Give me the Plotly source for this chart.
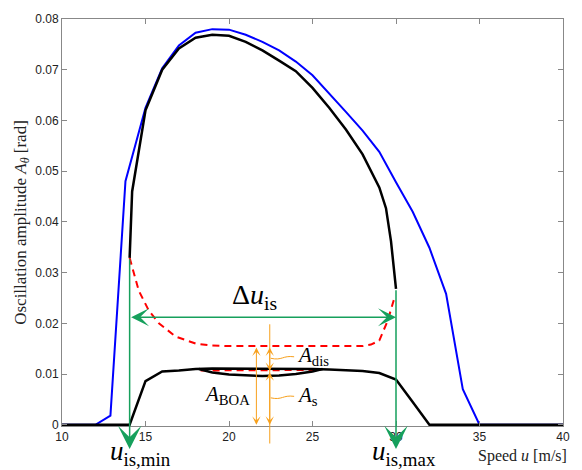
import plotly.graph_objects as go

# ---------------- data ----------------
blue_x = [10, 12, 12.9, 13.8, 15, 16, 17, 18, 19, 20, 21, 22, 23, 24, 25, 26, 27, 28, 29, 30, 31, 32, 33, 34, 35, 40]
blue_y = [0, 0, 0.0018, 0.048, 0.0625, 0.0703, 0.0748, 0.0773, 0.078, 0.0779, 0.0769, 0.0755, 0.0738, 0.0716,
          0.0689, 0.0654, 0.0617, 0.058, 0.0538, 0.0478, 0.042, 0.0349, 0.0258, 0.007, 0, 0]

upper_x = [14.05, 14.2, 15, 16, 17, 18, 19, 20, 21, 22, 23, 24, 25, 26, 27, 28, 29, 29.4, 29.7, 30.0]
upper_y = [0.0329, 0.046, 0.062, 0.070, 0.0742, 0.0763, 0.0769, 0.0767, 0.0755, 0.0738, 0.0718, 0.0697,
           0.0664, 0.0625, 0.0582, 0.0533, 0.0468, 0.0427, 0.0362, 0.0268]

lower_x = [10, 14.05, 15, 16, 17, 18, 19, 20, 21, 22, 23, 24, 25, 26, 27, 28, 29, 30, 31, 32, 40]
lower_y = [0, 0, 0.0086, 0.0105, 0.0107, 0.0110, 0.0111, 0.0111, 0.0111, 0.0111, 0.0111, 0.0111, 0.0110,
           0.0109, 0.0108, 0.0106, 0.0102, 0.0089, 0.0045, 0, 0]

lens_x = [18.2, 19, 20, 21, 22, 23, 24, 25, 25.6]
lens_y = [0.0110, 0.0103, 0.0099, 0.0097, 0.0096, 0.0097, 0.0100, 0.0105, 0.0110]

unstable_x = [14.05, 14.6, 15.2, 15.8, 16.8, 18, 19, 20, 22, 24, 26, 28, 28.5, 29, 29.5, 29.95]
unstable_y = [0.0329, 0.0264, 0.0225, 0.0200, 0.0174, 0.0160, 0.0156, 0.0155, 0.0155, 0.0155, 0.0155,
              0.0155, 0.0158, 0.0166, 0.0205, 0.0255]

unstable_lens_x = [18.3, 20, 22, 24, 25.5]
unstable_lens_y = [0.0107, 0.0107, 0.0107, 0.0107, 0.0108]

x_ticks = [10, 15, 20, 25, 30, 35, 40]
y_ticks = [0, 0.01, 0.02, 0.03, 0.04, 0.05, 0.06, 0.07, 0.08]

# annotation anchors (data units)
u_is_min, u_is_max = 14.05, 30.0
A_top_min, A_top_max = 0.0329, 0.0268
du_level = 0.0212
A_dis_top, A_s_top = 0.0155, 0.0106
x_boa, x_s = 21.64, 22.44

SERIF = "Liberation Serif, DejaVu Serif, serif"
SANS = "Liberation Sans, Arial, sans-serif"
GREEN = "#16a05c"
ORANGE = "#f7a01c"

fig = go.Figure()
fig.add_trace(go.Scatter(x=blue_x, y=blue_y, mode="lines", line=dict(color="#0000ff", width=2)))
fig.add_trace(go.Scatter(x=unstable_x, y=unstable_y, mode="lines",
                         line=dict(color="#ff0000", width=2, dash="7px,5px")))
fig.add_trace(go.Scatter(x=unstable_lens_x, y=unstable_lens_y, mode="lines",
                         line=dict(color="#ff0000", width=2, dash="7px,5px")))
fig.add_trace(go.Scatter(x=upper_x, y=upper_y, mode="lines", line=dict(color="#000000", width=2.5)))
fig.add_trace(go.Scatter(x=lower_x, y=lower_y, mode="lines", line=dict(color="#000000", width=2.5)))
fig.add_trace(go.Scatter(x=lens_x, y=lens_y, mode="lines", line=dict(color="#000000", width=2.5)))

ann = []
# green vertical arrows
for xv, top in [(u_is_min, A_top_min), (u_is_max, A_top_max)]:
    ann.append(dict(x=xv, y=-0.0048, ax=xv, ay=top, xref="x", yref="y", axref="x", ayref="y",
                    text="", showarrow=True, arrowhead=3, arrowsize=2.6, arrowwidth=1.5, arrowcolor=GREEN))
# green horizontal double arrow
ann.append(dict(x=u_is_max, y=du_level, ax=u_is_min, ay=du_level, xref="x", yref="y", axref="x", ayref="y",
                text="", showarrow=True, arrowhead=3, startarrowhead=3, arrowside="end+start",
                arrowsize=2.0, startarrowsize=2.0, arrowwidth=1.5, arrowcolor=GREEN))
# orange thin line
ann.append(dict(x=x_s, y=-0.0037, ax=x_s, ay=0.0201, xref="x", yref="y", axref="x", ayref="y",
                text="", showarrow=True, arrowhead=0, arrowwidth=1, arrowcolor=ORANGE))
# orange double arrows
for xv, y0, y1 in [(x_boa, A_dis_top, 0), (x_s, A_dis_top, A_s_top), (x_s, A_s_top, 0)]:
    ann.append(dict(x=xv, y=y1, ax=xv, ay=y0, xref="x", yref="y", axref="x", ayref="y",
                    text="", showarrow=True, arrowhead=3, startarrowhead=3, arrowside="end+start",
                    arrowsize=1.4, startarrowsize=1.4, arrowwidth=1, arrowcolor=ORANGE))

# text labels
ann.append(dict(x=21.5, y=0.0252, xref="x", yref="y", text="Δ<i>u</i><sub>is</sub>", showarrow=False,
                font=dict(family=SERIF, size=28, color="black")))
ann.append(dict(x=23.95, y=0.0135, xref="x", yref="y", xanchor="left", yanchor="middle",
                text="<i>A</i><sub>dis</sub>", showarrow=False, font=dict(family=SERIF, size=21, color="black")))
ann.append(dict(x=23.95, y=0.0056, xref="x", yref="y", xanchor="left", yanchor="middle",
                text="<i>A</i><sub>s</sub>", showarrow=False, font=dict(family=SERIF, size=21, color="black")))
ann.append(dict(x=21.4, y=0.0059, xref="x", yref="y", xanchor="right", yanchor="middle",
                text="<i>A</i><sub>BOA</sub>", showarrow=False, font=dict(family=SERIF, size=21, color="black")))
ann.append(dict(x=0.157, y=-0.066, xref="paper", yref="paper", xanchor="center", yanchor="middle",
                text="<i>u</i><sub>is,min</sub>", showarrow=False, font=dict(family=SERIF, size=27, color="black")))
ann.append(dict(x=0.682, y=-0.066, xref="paper", yref="paper", xanchor="center", yanchor="middle",
                text="<i>u</i><sub>is,max</sub>", showarrow=False, font=dict(family=SERIF, size=27, color="black")))
ann.append(dict(x=1.012, y=-0.073, xref="paper", yref="paper", xanchor="right", yanchor="middle",
                text="Speed <i>u</i> [m/s]", showarrow=False, font=dict(family=SERIF, size=16, color="#222")))

# leader lines
fig.add_shape(type="path", xref="x", yref="y",
              path="M 22.5,0.0131 C 23.2,0.0126 23.2,0.0137 23.9,0.0134",
              line=dict(color=ORANGE, width=1))
fig.add_shape(type="path", xref="x", yref="y",
              path="M 22.5,0.0053 C 23.2,0.0048 23.2,0.0059 23.9,0.0056",
              line=dict(color=ORANGE, width=1))

fig.update_layout(
    width=582, height=470,
    margin=dict(l=62, r=19, t=14, b=44),
    paper_bgcolor="white", plot_bgcolor="white",
    showlegend=False,
    annotations=ann,
)
axis_common = dict(showline=True, mirror="ticks", ticks="inside", ticklen=5, linecolor="#888",
                   tickcolor="#888", linewidth=1, showgrid=False, zeroline=False,
                   tickfont=dict(family=SANS, size=12, color="#222"))
fig.update_xaxes(range=[10, 40], tickvals=x_ticks, ticktext=[str(v) for v in x_ticks], **axis_common)
fig.update_yaxes(range=[-0.00025, 0.08], tickvals=y_ticks, ticktext=["0"] + [f"{v:.2f}" for v in y_ticks[1:]],
                 title=dict(text="Oscillation amplitude <i>A</i><sub><i>θ</i></sub> [rad]",
                            font=dict(family=SERIF, size=17, color="#222"), standoff=4),
                 **axis_common)

fig.write_html("out.html")
